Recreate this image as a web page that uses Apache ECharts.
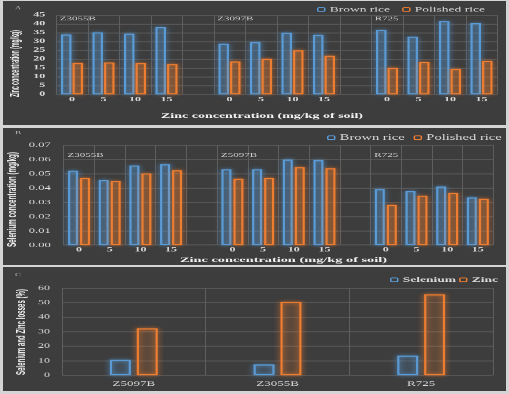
<!DOCTYPE html>
<html><head><meta charset="utf-8">
<script src="https://cdn.jsdelivr.net/npm/echarts@6/dist/echarts.min.js"></script>
<style>
html,body{margin:0;padding:0;width:509px;height:394px;overflow:hidden;background:#d4d4d4;}
.panel{position:absolute;left:3px;width:503px;background:#3d3d3d;}
#chart{position:absolute;left:0;top:0;width:509px;height:716px;transform-origin:0 0;}
</style></head><body>
<div class="panel" style="top:1px;height:124px"></div>
<div class="panel" style="top:128px;height:137px"></div>
<div class="panel" style="top:267px;height:123.5px"></div>
<div id="chart"></div>
<script>
// ---------- data ----------
const doses = ['0', '5', '10', '15'];
const zincCultivars = ['Z3055B', 'Z3097B', 'R725'];
const seCultivars = ['Z3055B', 'Z5097B', 'R725'];
const zincBrownRice = [34.0, 35.2, 34.4, 38.2, 28.7, 29.7, 34.9, 33.8, 36.6, 32.7, 41.6, 40.4];
const zincPolishedRice = [17.9, 18.1, 17.8, 17.2, 18.7, 20.2, 25.0, 21.9, 15.1, 18.3, 14.5, 18.9];
const seBrownRice = [0.0520, 0.0455, 0.0557, 0.0566, 0.0531, 0.0531, 0.0599, 0.0594, 0.0392, 0.0378, 0.0410, 0.0334];
const sePolishedRice = [0.0471, 0.0448, 0.0501, 0.0524, 0.0464, 0.0471, 0.0545, 0.0538, 0.0282, 0.0345, 0.0364, 0.0324];
const lossCultivars = ['Z5097B', 'Z3055B', 'R725'];
const seleniumLoss = [10.7, 7.5, 13.5];
const zincLoss = [32.3, 50.4, 55.7];
const zincTicks = [0, 45, 5];
const seTicks = [0, 0.07, 0.01];
const lossTicks = [0, 60, 10];

// ---------- layout helpers ----------
const H = 716, S = 394 / H;
document.getElementById('chart').style.transform = 'scaleY(' + S + ')';
const Y = v => v / S;
const BLUE = '#5b9bd5', ORANGE = '#ed7d31';
const TXT = '#d9d9d9';
const SERIF = '"Liberation Serif", "Times New Roman", serif';
const SANS = '"Liberation Sans Narrow", "Liberation Sans", Arial, sans-serif';

function buildCats(cultivars) {
  const cats = [];
  cultivars.forEach((c, i) => {
    doses.forEach(d => cats.push(c + '|' + d));
    if (i < cultivars.length - 1) cats.push('gap' + i);
  });
  return cats;
}
function withGaps(vals) {
  const out = [];
  vals.forEach((v, i) => {
    out.push(v);
    if (i % 4 === 3 && i < vals.length - 1) out.push('-');
  });
  return out;
}
const zincCats = buildCats(zincCultivars);
const seCats = buildCats(seCultivars);

const measureCtx = document.createElement('canvas').getContext('2d');
function measure(text, font) { measureCtx.font = font; return measureCtx.measureText(text).width; }
function vTitle(text, cx, cyRef, lenRef, size) {
  const font = 'bold ' + size + 'px ' + SANS;
  const w = measure(text, font);
  return { type: 'text', x: cx, y: Y(cyRef), rotation: Math.PI / 2, scaleX: (lenRef / S) / w,
    style: { text, font, fill: '#f2f2f2', align: 'center', verticalAlign: 'middle' } };
}
function hTitle(text, cx, cyRef, widthRef, size) {
  const font = 'bold ' + size + 'px ' + SERIF;
  const w = measure(text, font);
  return { type: 'text', x: cx, y: Y(cyRef), scaleX: widthRef / w,
    style: { text, font, fill: '#f2f2f2', align: 'center', verticalAlign: 'middle' } };
}
function panelTag(t, x, yRef) {
  return { type: 'text', x, y: Y(yRef), style: { text: t, font: '9px ' + SERIF, fill: '#bbbbbb', align: 'center', verticalAlign: 'middle' } };
}

const axisLabelBase = { color: TXT, fontFamily: SERIF, fontWeight: 'bold', fontSize: 12 };
const gridLine = { show: true, lineStyle: { color: '#5e5e5e', width: 1.6 } };
const vLine = { show: true, interval: 0, lineStyle: { color: '#5e5e5e', width: 1 } };

function barStyle(color, fill) {
  return { color: fill, borderColor: color, borderWidth: 2.2, shadowColor: color, shadowBlur: 6 };
}
function groupMarks(cultivars, yTop, offX, offY) {
  return {
    symbol: 'circle', symbolSize: 1, silent: true,
    itemStyle: { color: 'transparent', borderWidth: 0, shadowBlur: 0 },
    label: { show: true, position: 'right', distance: 0, offset: [offX, offY], formatter: p => p.name,
      color: '#d0d0d0', fontFamily: SERIF, fontSize: 11 },
    data: cultivars.map(c => ({ name: c, coord: [c + '|0', yTop] }))
  };
}
function legendItem(name, color) {
  return { name, itemStyle: { color: 'transparent', borderColor: color, borderWidth: 1.5 } };
}

const option = {
  animation: false,
  backgroundColor: 'transparent',
  grid: [
    { left: 56.25, right: 11.75, top: Y(15), height: Y(79.3) },
    { left: 63.7, right: 15.8, top: Y(145), height: Y(100) },
    { left: 62, right: 16, top: Y(288), height: Y(87.3) }
  ],
  xAxis: [
    { type: 'category', gridIndex: 0, data: zincCats, axisLine: { show: false }, axisTick: { show: false },
      splitLine: vLine, axisLabel: Object.assign({}, axisLabelBase, { interval: 0, margin: 4, formatter: v => v.split('|')[1] || '' }) },
    { type: 'category', gridIndex: 1, data: seCats, axisLine: { show: false }, axisTick: { show: false },
      splitLine: vLine, axisLabel: Object.assign({}, axisLabelBase, { interval: 0, margin: 3, formatter: v => v.split('|')[1] || '' }) },
    { type: 'category', gridIndex: 2, data: lossCultivars, axisLine: { show: false }, axisTick: { show: false },
      splitLine: vLine, axisLabel: Object.assign({}, axisLabelBase, { fontWeight: 'normal', fontSize: 13, margin: 9 }) }
  ],
  yAxis: [
    { type: 'value', gridIndex: 0, min: zincTicks[0], max: zincTicks[1], interval: zincTicks[2],
      axisLine: { show: false }, axisTick: { show: false }, splitLine: gridLine,
      axisLabel: Object.assign({}, axisLabelBase, { margin: 11 }) },
    { type: 'value', gridIndex: 1, min: seTicks[0], max: seTicks[1], interval: seTicks[2],
      axisLine: { show: false }, axisTick: { show: false }, splitLine: gridLine,
      axisLabel: Object.assign({}, axisLabelBase, { margin: 13, fontWeight: 'normal', fontSize: 12.5, formatter: v => v.toFixed(2) }) },
    { type: 'value', gridIndex: 2, min: lossTicks[0], max: lossTicks[1], interval: lossTicks[2],
      axisLine: { show: false }, axisTick: { show: false }, splitLine: gridLine,
      axisLabel: Object.assign({}, axisLabelBase, { margin: 12, fontWeight: 'normal' }) }
  ],
  legend: [
    { left: 312, top: Y(6.7) - 7, itemWidth: 7, itemHeight: 7, itemGap: 12, itemTextGap: 4,
      textStyle: { color: TXT, fontFamily: SERIF, fontSize: 13.5 },
      data: [legendItem('Brown rice', BLUE), legendItem('Polished rice', ORANGE)] },
    { left: 322, top: Y(135) - 7.5, itemWidth: 7, itemHeight: 7, itemGap: 9, itemTextGap: 3,
      textStyle: { color: TXT, fontFamily: SERIF, fontSize: 14.5 },
      data: [legendItem('Brown rice', BLUE), legendItem('Polished rice', ORANGE)] },
    { left: 385, top: Y(277) - 7, itemWidth: 7, itemHeight: 7, itemGap: 3, itemTextGap: 4,
      textStyle: { color: TXT, fontFamily: SERIF, fontSize: 13.5, fontWeight: 'bold' },
      data: [legendItem('Selenium', BLUE), legendItem('Zinc', ORANGE)] }
  ],
  graphic: [
    panelTag('A', 18, 8), panelTag('B', 18, 133), panelTag('C', 18, 275),
    vTitle('Zinc concentration (mg/kg)', 16, 63.5, 67, 12.5),
    vTitle('Selenium concentration (mg/kg)', 13, 199.5, 95, 12),
    vTitle('Selenium and Zinc losses (%)', 22, 332, 86, 12.5),
    hTitle('Zinc concentration (mg/kg of soil)', 262, 116, 202, 12),
    hTitle('Zinc concentration (mg/kg of soil)', 283.5, 260.5, 207, 12)
  ],
  series: [
    { name: 'Brown rice', type: 'bar', xAxisIndex: 0, yAxisIndex: 0, barWidth: 10.5, barGap: '10%',
      itemStyle: barStyle(BLUE, 'rgba(91,155,213,0.10)'), data: withGaps(zincBrownRice),
      markPoint: groupMarks(zincCultivars, zincTicks[1], -7, Y(4)) },
    { name: 'Polished rice', type: 'bar', xAxisIndex: 0, yAxisIndex: 0, barWidth: 10.5, barGap: '10%',
      itemStyle: barStyle(ORANGE, 'rgba(237,125,49,0.10)'), data: withGaps(zincPolishedRice) },
    { name: 'Brown rice', type: 'bar', xAxisIndex: 1, yAxisIndex: 1, barWidth: 10, barGap: '20%',
      itemStyle: barStyle(BLUE, 'rgba(91,155,213,0.10)'), data: withGaps(seBrownRice),
      markPoint: groupMarks(seCultivars, seTicks[1], -6, Y(10)) },
    { name: 'Polished rice', type: 'bar', xAxisIndex: 1, yAxisIndex: 1, barWidth: 10, barGap: '20%',
      itemStyle: barStyle(ORANGE, 'rgba(237,125,49,0.10)'), data: withGaps(sePolishedRice) },
    { name: 'Selenium', type: 'bar', xAxisIndex: 2, yAxisIndex: 2, barWidth: 21, barGap: '28%',
      itemStyle: barStyle(BLUE, 'rgba(91,155,213,0.10)'), data: seleniumLoss },
    { name: 'Zinc', type: 'bar', xAxisIndex: 2, yAxisIndex: 2, barWidth: 21, barGap: '28%',
      itemStyle: barStyle(ORANGE, 'rgba(237,125,49,0.10)'), data: zincLoss }
  ]
};
const chart = echarts.init(document.getElementById('chart'), null, { width: 509, height: H });
chart.setOption(option);
</script>
</body></html>
